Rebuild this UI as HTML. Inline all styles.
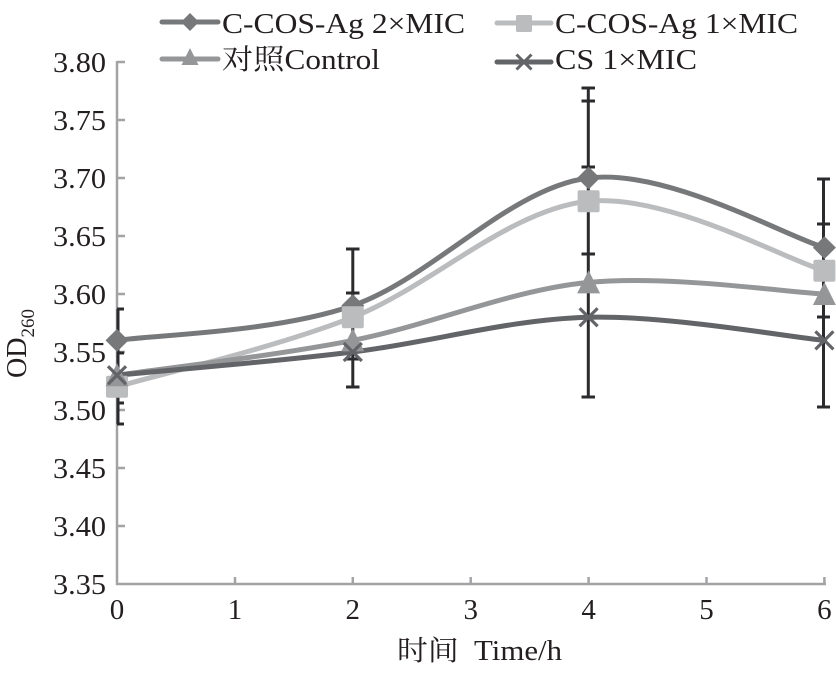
<!DOCTYPE html>
<html><head><meta charset="utf-8"><style>
html,body{margin:0;padding:0;background:#fff;}
svg{display:block;}
svg text{font-family:"Times New Roman","Liberation Serif","Noto Serif CJK SC",serif;fill:#231f20;}
</style></head><body>
<svg width="836" height="681" viewBox="0 0 836 681" xmlns="http://www.w3.org/2000/svg">
<rect width="836" height="681" fill="#fff"/>
<!-- axes -->
<g stroke="#a2a3a5" stroke-width="2.5" fill="none">
<line x1="117" y1="61" x2="117" y2="585"/>
<line x1="116" y1="584" x2="826" y2="584"/>
<line x1="117" y1="62" x2="125" y2="62"/>
<line x1="117" y1="120" x2="125" y2="120"/>
<line x1="117" y1="178" x2="125" y2="178"/>
<line x1="117" y1="236" x2="125" y2="236"/>
<line x1="117" y1="294" x2="125" y2="294"/>
<line x1="117" y1="352" x2="125" y2="352"/>
<line x1="117" y1="410" x2="125" y2="410"/>
<line x1="117" y1="468" x2="125" y2="468"/>
<line x1="117" y1="526" x2="125" y2="526"/>
<line x1="235" y1="584" x2="235" y2="577"/>
<line x1="352.8" y1="584" x2="352.8" y2="577"/>
<line x1="470.7" y1="584" x2="470.7" y2="577"/>
<line x1="588.6" y1="584" x2="588.6" y2="577"/>
<line x1="706.5" y1="584" x2="706.5" y2="577"/>
<line x1="824.4" y1="584" x2="824.4" y2="577"/>
</g>
<!-- y tick labels -->
<g font-size="29">
<text x="53" y="72" textLength="53" lengthAdjust="spacingAndGlyphs">3.80</text>
<text x="53" y="130" textLength="53" lengthAdjust="spacingAndGlyphs">3.75</text>
<text x="53" y="188" textLength="53" lengthAdjust="spacingAndGlyphs">3.70</text>
<text x="53" y="246" textLength="53" lengthAdjust="spacingAndGlyphs">3.65</text>
<text x="53" y="304" textLength="53" lengthAdjust="spacingAndGlyphs">3.60</text>
<text x="53" y="362" textLength="53" lengthAdjust="spacingAndGlyphs">3.55</text>
<text x="53" y="420" textLength="53" lengthAdjust="spacingAndGlyphs">3.50</text>
<text x="53" y="478" textLength="53" lengthAdjust="spacingAndGlyphs">3.45</text>
<text x="53" y="536" textLength="53" lengthAdjust="spacingAndGlyphs">3.40</text>
<text x="53" y="594" textLength="53" lengthAdjust="spacingAndGlyphs">3.35</text>
</g>
<!-- x tick labels -->
<g font-size="29" text-anchor="middle">
<text x="117" y="619">0</text>
<text x="235" y="619">1</text>
<text x="352.8" y="619">2</text>
<text x="470.7" y="619">3</text>
<text x="588.6" y="619">4</text>
<text x="706.5" y="619">5</text>
<text x="824.4" y="619">6</text>
</g>
<text x="397" y="660" font-size="28" textLength="165" lengthAdjust="spacingAndGlyphs" xml:space="preserve">时间  Time/h</text>
<text transform="rotate(-90)" x="-378" y="26" font-size="28">OD<tspan font-size="19" dy="8">260</tspan></text>

<!-- series lines -->
<g fill="none" stroke-width="5" stroke-linecap="round">
<path stroke="#77787a" d="M117,340.4 C156.3,334.6 274.2,332.7 352.8,305.6 C431.4,278.5 510,187.7 588.6,178 C667.2,168.3 785.1,236 824.4,247.6"/>
<path stroke="#bbbcbe" d="M117,386.8 C156.3,375.2 274.2,348.1 352.8,317.2 C431.4,286.3 510,208.9 588.6,201.2 C667.2,193.5 785.1,259.2 824.4,270.8"/>
<path stroke="#959698" d="M117,375.2 C156.3,369.4 274.2,355.9 352.8,340.4 C431.4,324.9 510,290.1 588.6,282.4 C667.2,274.7 785.1,292.1 824.4,294"/>
<path stroke="#636467" d="M117,375.2 C156.3,371.3 274.2,361.7 352.8,352 C431.4,342.3 510,319.1 588.6,317.2 C667.2,315.3 785.1,336.5 824.4,340.4"/>
</g>

<!-- error bars -->
<g stroke="#2b2a2c" stroke-width="3" fill="none">
<line x1="118" y1="309" x2="118" y2="424"/>
<line x1="117" y1="309" x2="124" y2="309"/>
<line x1="117" y1="353" x2="124" y2="353"/>
<line x1="117" y1="403" x2="124" y2="403"/>
<line x1="117" y1="424" x2="124" y2="424"/>
<line x1="352.8" y1="249" x2="352.8" y2="387"/>
<line x1="346" y1="249" x2="359.5" y2="249"/>
<line x1="346" y1="293" x2="359.5" y2="293"/>
<line x1="346" y1="359" x2="359.5" y2="359"/>
<line x1="346" y1="387" x2="359.5" y2="387"/>
<line x1="588.3" y1="88" x2="588.3" y2="397"/>
<line x1="581.5" y1="88" x2="595" y2="88"/>
<line x1="581.5" y1="101" x2="595" y2="101"/>
<line x1="581.5" y1="167" x2="595" y2="167"/>
<line x1="581.5" y1="254" x2="595" y2="254"/>
<line x1="581.5" y1="397" x2="595" y2="397"/>
<line x1="823.5" y1="179" x2="823.5" y2="407"/>
<line x1="817" y1="179" x2="830" y2="179"/>
<line x1="817" y1="224" x2="830" y2="224"/>
<line x1="817" y1="317" x2="830" y2="317"/>
<line x1="817" y1="407" x2="830" y2="407"/>
</g>

<!-- markers 2xMIC diamonds -->
<g fill="#77787a">
<polygon points="117,329 128.5,340.4 117,351.8 105.5,340.4"/>
<polygon points="352.8,294.2 364.3,305.6 352.8,317 341.3,305.6"/>
<polygon points="588.6,166.6 600.1,178 588.6,189.4 577.1,178"/>
<polygon points="824.4,236.2 835.9,247.6 824.4,259 812.9,247.6"/>
</g>
<!-- 1xMIC squares -->
<g fill="#bbbcbe">
<rect x="106" y="375.8" width="22" height="22" rx="2"/>
<rect x="341.8" y="306.2" width="22" height="22" rx="2"/>
<rect x="577.6" y="190.2" width="22" height="22" rx="2"/>
<rect x="813.4" y="259.8" width="22" height="22" rx="2"/>
</g>
<!-- control triangles -->
<g fill="#959698">
<polygon points="117,363.2 128.5,386.2 105.5,386.2"/>
<polygon points="352.8,328.4 364.3,351.4 341.3,351.4"/>
<polygon points="588.6,270.4 600.1,293.4 577.1,293.4"/>
<polygon points="824.4,282 835.9,305 812.9,305"/>
</g>
<!-- CS x -->
<g stroke="#636467" stroke-width="3.2" fill="none">
<path d="M108,366.2 L126,384.2 M126,366.2 L108,384.2"/>
<path d="M343.8,343 L361.8,361 M361.8,343 L343.8,361"/>
<path d="M579.6,308.2 L597.6,326.2 M597.6,308.2 L579.6,326.2"/>
<path d="M815.4,331.4 L833.4,349.4 M833.4,331.4 L815.4,349.4"/>
</g>

<!-- legend -->
<g stroke-width="5" stroke-linecap="round">
<line x1="162" y1="22" x2="218" y2="22" stroke="#77787a"/>
<line x1="162" y1="59" x2="218" y2="59" stroke="#959698"/>
<line x1="497" y1="23" x2="551" y2="23" stroke="#bbbcbe"/>
<line x1="497" y1="62" x2="551" y2="62" stroke="#636467"/>
</g>
<polygon points="190,13 199,22 190,31 181,22" fill="#77787a"/>
<polygon points="190,48 198.5,65 181.5,65" fill="#959698"/>
<rect x="516" y="15" width="16" height="17" rx="1.5" fill="#bbbcbe"/>
<path d="M516.5,54.5 L531.5,69.5 M531.5,54.5 L516.5,69.5" stroke="#636467" stroke-width="3" fill="none"/>
<g font-size="28.5">
<text x="222" y="33" textLength="243" lengthAdjust="spacingAndGlyphs">C-COS-Ag 2×MIC</text>
<text x="222" y="69" textLength="158" lengthAdjust="spacingAndGlyphs">对照Control</text>
<text x="555" y="33" textLength="243" lengthAdjust="spacingAndGlyphs">C-COS-Ag 1×MIC</text>
<text x="555" y="69" textLength="142" lengthAdjust="spacingAndGlyphs">CS 1×MIC</text>
</g>
</svg>
</body></html>
